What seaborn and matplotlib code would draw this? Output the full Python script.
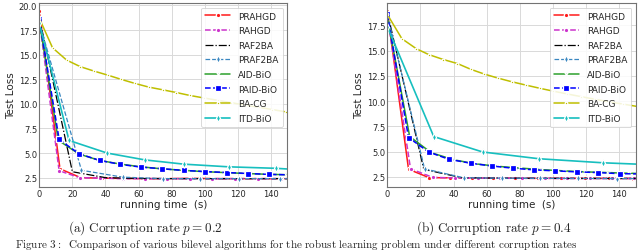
import numpy as np
import pandas as pd
import seaborn as sns
import matplotlib
matplotlib.use("Agg")
import matplotlib.pyplot as plt
from matplotlib.ticker import MultipleLocator

# ---------------- data: panel (a) p = 0.2 ----------------
a_prahgd_t = [0, 12.5, 25, 38, 51, 64.5, 78, 91.5, 105, 118.5, 132, 145.5, 150]
a_prahgd_v = [19.4, 3.4, 2.5, 2.45, 2.42, 2.4, 2.4, 2.43, 2.4, 2.4, 2.4, 2.4, 2.4]
a_rahgd_t = [0, 12, 24.5, 37, 50.5, 64, 77.5, 91, 104.5, 118.5, 132.5, 146, 150]
a_rahgd_v = [18.5, 3.2, 2.5, 2.45, 2.4, 2.4, 2.4, 2.4, 2.4, 2.4, 2.4, 2.4, 2.4]
a_raf2ba_t = [0, 20, 40, 60, 80, 100, 120, 140, 150]
a_raf2ba_v = [18.8, 3.1, 2.5, 2.42, 2.4, 2.4, 2.4, 2.4, 2.4]
a_praf2ba_t = [0, 25.5, 50.5, 75, 97, 121, 145.5, 150]
a_praf2ba_v = [18.3, 3.25, 2.55, 2.4, 2.4, 2.4, 2.4, 2.4]
a_aid_t = [0, 11.5, 24, 36.5, 49, 61.5, 74, 86.5, 99, 111.5, 124, 136.5, 149, 150]
a_aid_v = [18.4, 6.3, 4.9, 4.25, 3.88, 3.6, 3.4, 3.25, 3.12, 3.02, 2.93, 2.85, 2.8, 2.8]
a_paid_t = [0, 12, 24, 36.5, 49, 61.5, 74.5, 87.5, 100.5, 113.5, 126.5, 139, 150]
a_paid_v = [18.6, 6.38, 4.93, 4.25, 3.85, 3.57, 3.4, 3.23, 3.12, 3.02, 2.92, 2.83, 2.79]
a_bacg_t = [0, 8, 16.5, 24.8, 33.1, 41.4, 49.7, 58, 66.3, 74.6, 82.9, 91.2, 99.5,
            107.8, 116.1, 124.4, 132.7, 141, 149.3, 150]
a_bacg_v = [18.7, 15.7, 14.45, 13.78, 13.33, 12.92, 12.48, 12.07, 11.7, 11.43, 11.15,
            10.85, 10.6, 10.36, 10.12, 9.88, 9.65, 9.42, 9.18, 9.16]
a_itd_t = [0, 18, 41, 64, 87.5, 114.5, 143, 150]
a_itd_v = [18.2, 6.28, 5.0, 4.3, 3.87, 3.6, 3.45, 3.38]

# ---------------- data: panel (b) p = 0.4 ----------------
b_prahgd_t = [0, 12.8, 25, 38, 51, 64, 77, 91, 105, 119.5, 134, 148, 150]
b_prahgd_v = [18.9, 3.26, 2.44, 2.4, 2.38, 2.38, 2.37, 2.36, 2.36, 2.36, 2.35, 2.34, 2.34]
b_rahgd_t = [0, 14, 27.5, 41, 54.5, 68, 81.5, 95, 108.5, 122, 135.5, 149, 150]
b_rahgd_v = [18.5, 3.3, 2.45, 2.4, 2.38, 2.37, 2.36, 2.36, 2.35, 2.35, 2.35, 2.35, 2.35]
b_raf2ba_t = [0, 22, 45, 67, 90, 112, 135, 150]
b_raf2ba_v = [18.8, 3.25, 2.42, 2.38, 2.36, 2.35, 2.35, 2.35]
b_praf2ba_t = [0, 22.5, 46, 69, 92, 115, 138.5, 150]
b_praf2ba_v = [18.6, 3.3, 2.42, 2.38, 2.36, 2.35, 2.33, 2.33]
b_aid_t = [0, 13.5, 26.5, 40, 53, 66.5, 80, 93, 106.5, 119.5, 133, 146, 150]
b_aid_v = [18.3, 6.5, 4.9, 4.2, 3.8, 3.55, 3.38, 3.22, 3.1, 3.0, 2.93, 2.86, 2.85]
b_paid_t = [0, 12.8, 25, 37.3, 50.5, 63.1, 75.9, 88.5, 101.2, 114.4, 127.2, 140.4, 150]
b_paid_v = [18.6, 6.4, 4.96, 4.24, 3.85, 3.58, 3.36, 3.2, 3.1, 3.0, 2.93, 2.82, 2.8]
b_bacg_t = [0, 8.8, 17.5, 25, 33.8, 42.3, 50.5, 58.5, 66.5, 75, 83.5, 92, 100, 108.5,
            117, 125, 133.5, 142, 150]
b_bacg_v = [18.6, 16.19, 15.2, 14.62, 14.13, 13.73, 13.15, 12.69, 12.3, 11.93, 11.6,
            11.28, 11.0, 10.72, 10.45, 10.2, 9.95, 9.72, 9.5]
b_itd_t = [0, 28, 57.5, 91.5, 130, 150]
b_itd_v = [17.4, 6.5, 4.97, 4.3, 3.9, 3.77]

methods = ["PRAHGD", "RAHGD", "RAF2BA", "PRAF2BA", "AID-BiO", "PAID-BiO", "BA-CG", "ITD-BiO"]
panel_a = [(a_prahgd_t, a_prahgd_v), (a_rahgd_t, a_rahgd_v), (a_raf2ba_t, a_raf2ba_v),
           (a_praf2ba_t, a_praf2ba_v), (a_aid_t, a_aid_v), (a_paid_t, a_paid_v),
           (a_bacg_t, a_bacg_v), (a_itd_t, a_itd_v)]
panel_b = [(b_prahgd_t, b_prahgd_v), (b_rahgd_t, b_rahgd_v), (b_raf2ba_t, b_raf2ba_v),
           (b_praf2ba_t, b_praf2ba_v), (b_aid_t, b_aid_v), (b_paid_t, b_paid_v),
           (b_bacg_t, b_bacg_v), (b_itd_t, b_itd_v)]
captions = [r"$\mathrm{(a)\ Corruption\ rate\ }p = 0.2$",
            r"$\mathrm{(b)\ Corruption\ rate\ }p = 0.4$"]
figure_caption = (r"$\mathrm{Figure\ 3:\ \ Comparison\ of\ various\ bilevel\ algorithms\ "
                  r"for\ the\ robust\ learning\ problem\ under\ different\ corruption\ rates}$")

# ---------------- styles ----------------
styles = {
    "PRAHGD":   dict(color="#ff1a1a", linestyle="-",  marker="o", ms=3.2, lw=1.1),
    "RAHGD":    dict(color="#cc33cc", linestyle="--", marker="o", ms=3.2, lw=1.1),
    "RAF2BA":   dict(color="black",   linestyle="-.", marker=None, ms=0, lw=0.9),
    "PRAF2BA":  dict(color="#3a87c0", linestyle="--", marker="d", ms=3.8, lw=0.9),
    "AID-BiO":  dict(color="#2ca02c", linestyle="-",  marker="x", ms=3.0, lw=1.1),
    "PAID-BiO": dict(color="#0000ff", linestyle="--", marker="s", ms=3.8, lw=1.1),
    "BA-CG":    dict(color="#bfbf00", linestyle="-",  marker=".", ms=3.8, lw=1.1),
    "ITD-BiO":  dict(color="#17bfbf", linestyle="-",  marker="d", ms=3.8, lw=1.2),
}

sns.set_theme(style="whitegrid")
plt.rcParams["font.family"] = ["DejaVu Sans"]
plt.rcParams["mathtext.fontset"] = "cm"

fig = plt.figure(figsize=(6.4, 2.53), dpi=100)
axes = [fig.add_axes([39.3 / 640, 1 - 188 / 253, (287.3 - 39.3) / 640, 184 / 253]),
        fig.add_axes([387.3 / 640, 1 - 188 / 253, (636 - 387.3) / 640, 184 / 253])]

for ax, panel, cap, xc in zip(axes, [panel_a, panel_b], captions, [145 / 640, 494 / 640]):
    for name, (t, v) in zip(methods, panel):
        df = pd.DataFrame({"t": t, "v": v})
        st = styles[name]
        kw = dict(color=st["color"], linestyle=st["linestyle"], linewidth=st["lw"])
        if st["marker"] is not None:
            kw.update(marker=st["marker"], markersize=st["ms"],
                      markevery=list(range(len(t) - 1)),
                      markeredgewidth=0.9)
        sns.lineplot(data=df, x="t", y="v", ax=ax, label=name, sort=False,
                     estimator=None, **kw)
    ax.set_xlim(0, 150)
    ax.xaxis.set_major_locator(MultipleLocator(20))
    ax.yaxis.set_major_locator(MultipleLocator(2.5))
    ax.yaxis.set_major_formatter(matplotlib.ticker.FormatStrFormatter("%.1f"))
    ax.tick_params(labelsize=6, pad=1.5, length=0)
    ax.set_xlabel("running time  (s)", fontsize=7.5, labelpad=1)
    ax.set_ylabel("Test Loss", fontsize=7.5, labelpad=2)
    for s in ax.spines.values():
        s.set_edgecolor("0.45")
        s.set_linewidth(0.8)
    ax.grid(color="0.85", linewidth=0.7)
    leg = ax.legend(loc="upper right", fontsize=6.5, labelspacing=0.62,
                    handlelength=2.8, handletextpad=0.9, borderpad=0.45,
                    framealpha=0.85, fancybox=True)
    leg.get_frame().set_edgecolor("0.8")
    leg.get_frame().set_linewidth(0.6)
    fig.text(xc, 1 - 228.5 / 253, cap, ha="center", va="center", fontsize=9.5)

fig.text(15 / 640, 1 / 253, figure_caption, ha="left", va="bottom", fontsize=8)

fig.savefig("out.png", dpi=100)
